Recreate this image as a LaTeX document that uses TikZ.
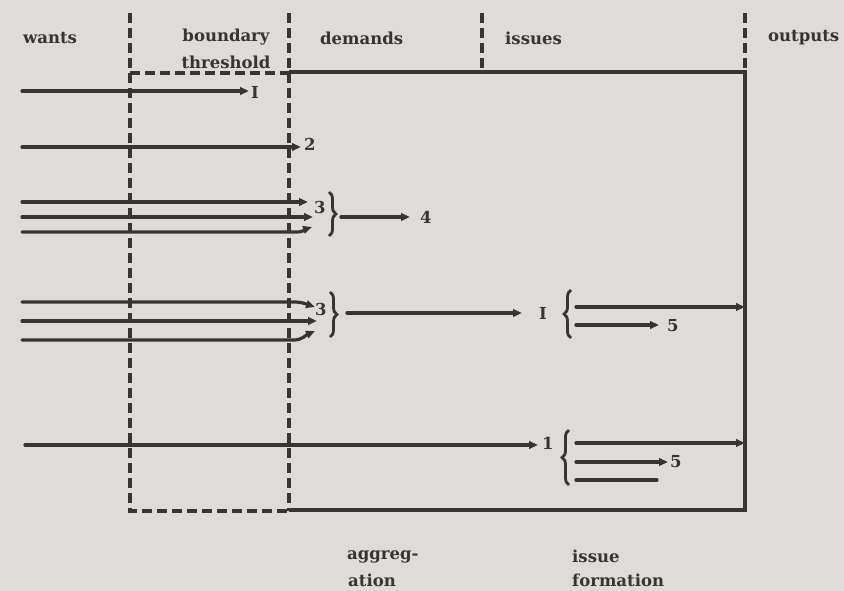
\documentclass[tikz,border=0pt]{standalone}
\usepackage{fontspec}
\setmainfont{DejaVu Serif}
\usetikzlibrary{arrows.meta,decorations.pathreplacing}
\definecolor{inkc}{RGB}{56,52,52}
\definecolor{paper}{RGB}{222,219,216}
\newcommand{\lblfont}{\bfseries\fontsize{16.5}{19}\selectfont}
\tikzset{
  ink/.style={draw=inkc, line width=3.2pt, line cap=round},
  arr/.style={ink, -{Triangle[length=9pt,width=7.5pt]}},
  divider/.style={draw=inkc, line width=3.2pt, dash pattern=on 10pt off 5pt},
  lbl/.style={text=inkc, font=\lblfont, inner sep=0pt},
  bracestyle/.style={draw=inkc, line width=2.8pt, decorate, decoration={brace, amplitude=7pt}},
}
\begin{document}
\begin{tikzpicture}[x=1pt, y=-1pt]
  % page
  \fill[paper] (0,0) rectangle (844,591);
  \useasboundingbox (0,0) rectangle (844,591);

  % column dividers
  \draw[divider] (130,13) -- (130,511) -- (289,511);
  \draw[divider] (130,73) -- (289,73);
  \draw[divider] (289,13) -- (289,511);
  \draw[divider] (482,13) -- (482,72);
  \draw[divider] (745,13) -- (745,72);
  % solid frame round demands / issues
  \draw[ink, line cap=butt] (289,72) -- (745,72) -- (745,510) -- (289,510);

  % column headings
  \node[lbl, anchor=west] (hwants) at (23,38) {wants};
  \node[lbl] (hbound) at (226,37) {boundary};
  \node[lbl] (hthresh) at (226,62) {threshold};
  \node[lbl, anchor=west] (hdem) at (320,38) {demands};
  \node[lbl, anchor=west] (hiss) at (505,38) {issues};
  \node[lbl, anchor=west] (hout) at (768,38) {outputs};

  % row 1
  \coordinate (s1) at (22,91);
  \coordinate (t1) at (249,91);
  \node[lbl, anchor=west] (n1) at (251,92) {I};
  \draw[arr] (s1) -- (t1);

  % row 2
  \coordinate (s2) at (22,147);
  \coordinate (t2) at (301,147);
  \node[lbl, anchor=west] (n2) at (304,144) {2};
  \draw[arr] (s2) -- (t2);

  % row 3: three wants into one demand
  \coordinate (s3a) at (22,202);
  \coordinate (s3b) at (22,217);
  \coordinate (s3c) at (22,232);
  \coordinate (t3a) at (308,202);
  \coordinate (t3b) at (313,217);
  \coordinate (t3c) at (312,227);
  \node[lbl, anchor=west] (n3) at (314,207) {3};
  \draw[arr] (s3a) -- (t3a);
  \draw[arr] (s3b) -- (t3b);
  \draw[arr] (s3c) -- (296,232) .. controls (304,232) and (306,229) .. (t3c);
  \coordinate (b3top) at (329,192);
  \coordinate (b3bot) at (329,236);
  \draw[bracestyle] (b3top) -- (b3bot);
  \coordinate (s4) at (341,217);
  \coordinate (t4) at (410,217);
  \node[lbl, anchor=west] (n4) at (420,217) {4};
  \draw[arr] (s4) -- (t4);

  % row 4: three wants into a demand that becomes an issue
  \coordinate (s5a) at (22,302);
  \coordinate (s5b) at (22,321);
  \coordinate (s5c) at (22,340);
  \coordinate (t5a) at (315,307);
  \coordinate (t5b) at (317,321);
  \coordinate (t5c) at (315,331);
  \node[lbl, anchor=west] (n5) at (315,309) {3};
  \draw[arr] (s5a) -- (294,302) .. controls (302,302) and (306,304) .. (t5a);
  \draw[arr] (s5b) -- (t5b);
  \draw[arr] (s5c) -- (294,340) .. controls (302,340) and (306,335) .. (t5c);
  \coordinate (b5top) at (330,292);
  \coordinate (b5bot) at (330,337);
  \draw[bracestyle] (b5top) -- (b5bot);
  \coordinate (s6) at (347,313);
  \coordinate (t6) at (522,313);
  \node[lbl, anchor=west] (n6) at (539,313) {I};
  \draw[arr] (s6) -- (t6);
  \coordinate (b6top) at (571,290);
  \coordinate (b6bot) at (571,338);
  \draw[bracestyle] (b6bot) -- (b6top);
  \coordinate (s7a) at (576,307);
  \coordinate (s7b) at (576,325);
  \coordinate (t7a) at (745,307);
  \coordinate (t7b) at (659,325);
  \node[lbl, anchor=west] (n7) at (667,326) {5};
  \draw[arr] (s7a) -- (t7a);
  \draw[arr] (s7b) -- (t7b);

  % row 5: one want through to outputs
  \coordinate (s8) at (25,445);
  \coordinate (t8) at (538,445);
  \node[lbl, anchor=west] (n8) at (542,443) {1};
  \draw[arr] (s8) -- (t8);
  \coordinate (b8top) at (569,430);
  \coordinate (b8bot) at (569,485);
  \draw[bracestyle] (b8bot) -- (b8top);
  \coordinate (s9a) at (576,443);
  \coordinate (s9b) at (576,462);
  \coordinate (s9c) at (576,480);
  \coordinate (t9a) at (745,443);
  \coordinate (t9b) at (668,462);
  \coordinate (t9c) at (657,480);
  \node[lbl, anchor=west] (n9) at (670,462) {5};
  \draw[arr] (s9a) -- (t9a);
  \draw[arr] (s9b) -- (t9b);
  \draw[ink] (s9c) -- (t9c);

  % stage names along the bottom
  \node[lbl, anchor=west] (agg1) at (347,557) {aggreg-};
  \node[lbl, anchor=west] (agg2) at (348,580) {ation};
  \node[lbl, anchor=west] (iss1) at (572,556) {issue};
  \node[lbl, anchor=west] (iss2) at (572,580) {formation};
\end{tikzpicture}
\end{document}
